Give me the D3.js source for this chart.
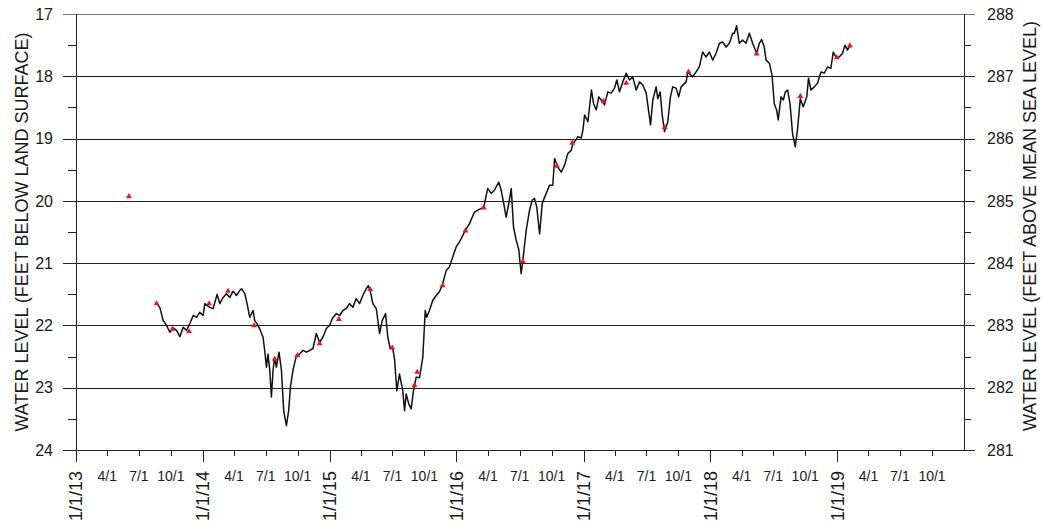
<!DOCTYPE html>
<html><head><meta charset="utf-8">
<script src="https://cdn.jsdelivr.net/npm/d3@7"></script>
<style>
html,body{margin:0;padding:0;background:#fff;}
svg{display:block;font-family:"Liberation Sans",Arial,sans-serif;}
</style></head>
<body>
<svg id="chart" width="1044" height="525"></svg>
<script>
// ---- DATA ----
// Continuous record: decimal year and depth to water (feet below land surface)
const lineYears = [2013.630,2013.661,2013.687,2013.714,2013.740,2013.766,2013.793,2013.819,2013.845,2013.872,2013.898,2013.924,2013.950,2013.976,2014.002,2014.016,2014.055,2014.081,2014.113,2014.134,2014.160,2014.187,2014.213,2014.239,2014.265,2014.291,2014.305,2014.331,2014.349,2014.370,2014.396,2014.409,2014.435,2014.454,2014.475,2014.488,2014.502,2014.514,2014.528,2014.541,2014.554,2014.567,2014.580,2014.601,2014.620,2014.638,2014.659,2014.677,2014.691,2014.711,2014.738,2014.764,2014.790,2014.817,2014.843,2014.869,2014.895,2014.921,2014.947,2014.974,2015.000,2015.021,2015.053,2015.079,2015.105,2015.131,2015.157,2015.183,2015.210,2015.236,2015.262,2015.289,2015.305,2015.320,2015.341,2015.368,2015.394,2015.415,2015.441,2015.459,2015.478,2015.498,2015.512,2015.530,2015.551,2015.577,2015.591,2015.604,2015.624,2015.643,2015.661,2015.683,2015.709,2015.735,2015.754,2015.766,2015.787,2015.813,2015.840,2015.866,2015.892,2015.919,2015.945,2015.971,2015.998,2016.024,2016.071,2016.102,2016.142,2016.168,2016.215,2016.246,2016.273,2016.299,2016.333,2016.352,2016.370,2016.391,2016.412,2016.431,2016.449,2016.470,2016.491,2016.509,2016.522,2016.549,2016.575,2016.596,2016.614,2016.632,2016.654,2016.675,2016.706,2016.732,2016.758,2016.772,2016.798,2016.824,2016.850,2016.876,2016.903,2016.916,2016.937,2016.955,2016.982,2016.995,2017.008,2017.034,2017.062,2017.079,2017.100,2017.120,2017.139,2017.165,2017.191,2017.218,2017.244,2017.262,2017.283,2017.309,2017.336,2017.362,2017.388,2017.415,2017.441,2017.467,2017.494,2017.514,2017.528,2017.546,2017.572,2017.585,2017.604,2017.620,2017.638,2017.664,2017.685,2017.703,2017.730,2017.750,2017.769,2017.809,2017.821,2017.861,2017.887,2017.913,2017.939,2017.966,2017.992,2018.018,2018.045,2018.071,2018.097,2018.124,2018.150,2018.176,2018.189,2018.207,2018.228,2018.254,2018.281,2018.307,2018.333,2018.365,2018.386,2018.404,2018.425,2018.439,2018.465,2018.486,2018.504,2018.522,2018.535,2018.557,2018.575,2018.591,2018.609,2018.628,2018.648,2018.669,2018.687,2018.709,2018.732,2018.760,2018.774,2018.793,2018.819,2018.845,2018.872,2018.898,2018.924,2018.950,2018.969,2018.994,2019.016,2019.042,2019.061,2019.081,2019.100];
const lineDepth = [21.63,21.71,21.92,22.00,22.11,22.04,22.08,22.18,22.03,22.08,21.97,21.84,21.87,21.79,21.84,21.65,21.71,21.73,21.50,21.65,21.55,21.49,21.55,21.45,21.52,21.44,21.41,21.49,21.65,21.87,21.76,21.92,22.00,22.08,22.19,22.40,22.67,22.46,22.72,23.15,22.72,22.51,22.67,22.43,22.72,23.37,23.61,23.37,22.99,22.72,22.48,22.46,22.40,22.43,22.40,22.37,22.13,22.27,22.19,22.05,22.00,21.89,21.81,21.84,21.76,21.73,21.65,21.71,21.57,21.65,21.52,21.41,21.36,21.44,21.65,21.73,22.13,21.92,21.81,22.19,22.37,22.37,22.54,23.05,22.78,23.05,23.37,23.10,23.26,23.34,23.05,22.83,22.84,22.51,21.76,21.87,21.76,21.60,21.52,21.46,21.33,21.12,21.06,20.90,20.74,20.66,20.47,20.37,20.18,20.15,20.10,19.80,19.88,19.83,19.70,19.83,20.02,20.26,20.04,19.80,20.42,20.63,20.79,21.17,20.96,20.47,20.15,19.99,19.96,20.10,20.53,20.04,19.88,19.75,19.75,19.32,19.46,19.54,19.43,19.24,19.19,19.08,19.03,18.97,18.99,18.86,18.62,18.73,18.22,18.44,18.54,18.33,18.38,18.46,18.25,18.27,18.19,18.06,18.25,18.09,17.95,18.06,18.01,18.22,18.09,18.14,18.27,18.57,18.78,18.38,18.17,18.36,18.25,18.62,18.89,18.73,18.33,18.17,18.19,18.33,18.17,18.09,17.93,18.01,17.93,17.85,17.61,17.69,17.61,17.74,17.63,17.47,17.45,17.53,17.47,17.31,17.31,17.19,17.47,17.42,17.47,17.31,17.47,17.63,17.47,17.41,17.53,17.74,17.79,17.98,18.44,18.54,18.70,18.33,18.38,18.25,18.22,18.44,18.92,19.13,18.86,18.36,18.49,18.33,18.03,18.22,18.17,18.11,17.93,17.95,17.85,17.87,17.61,17.71,17.69,17.63,17.50,17.58,17.51];
// Periodic field measurements (red triangles)
const fieldYears = [2013.417,2013.635,2013.761,2013.892,2014.050,2014.199,2014.404,2014.567,2014.746,2014.921,2015.073,2015.320,2015.494,2015.669,2015.691,2015.891,2016.071,2016.215,2016.522,2016.790,2016.911,2017.157,2017.336,2017.640,2017.827,2018.365,2018.709,2018.996,2019.100];
const fieldDepth = [19.93,21.65,22.06,22.10,21.65,21.45,22.00,22.54,22.48,22.29,21.90,21.42,22.36,22.96,22.75,21.36,20.48,20.11,20.97,19.44,19.07,18.40,18.11,18.82,17.93,17.64,18.32,17.70,17.51];
// Axis ticks and labels
const leftTicks = [17,18,19,20,21,22,23,24];
const rightTicks = [288,287,286,285,284,283,282,281];
const quarterLabels = ["4/1","7/1","10/1"];
const yearLabels = ["1/1/13","1/1/14","1/1/15","1/1/16","1/1/17","1/1/18","1/1/19"];
const datumOffset = 305; // altitude = 305 - depth
const leftTitle = "WATER LEVEL (FEET BELOW LAND SURFACE)";
const rightTitle = "WATER LEVEL (FEET ABOVE MEAN SEA LEVEL)";

// ---- helpers ----
function decYearToDate(dy){
  const y = Math.floor(dy);
  const s = Date.UTC(y,0,1), e = Date.UTC(y+1,0,1);
  return new Date(s + (dy - y) * (e - s));
}

const svg = d3.select("#chart");
const L = 76, R = 964, T = 14, B = 450;
const x = d3.scaleUtc().domain([new Date(Date.UTC(2013,0,1)), new Date(Date.UTC(2020,0,1))]).range([L, R]);
const y = d3.scaleLinear().domain([17, 24]).range([T, B]);
const y2 = d3.scaleLinear().domain([datumOffset-17, datumOffset-24]).range([T, B]);
const textCol = "#1a1a1a";

// gridlines (major ticks extend outside both axes)
svg.append("g").selectAll("line").data(leftTicks).join("line")
  .attr("x1", L-13).attr("x2", R+11)
  .attr("y1", d=>Math.round(y(d))+0.5).attr("y2", d=>Math.round(y(d))+0.5)
  .attr("stroke", d => d===17 ? "#777" : "#222").attr("stroke-width", 1.1);

// minor ticks on y axes
const halves = d3.range(17.5, 24, 1);
svg.append("g").selectAll("line").data(halves).join("line")
  .attr("x1", L-8).attr("x2", L).attr("y1", d=>Math.round(y(d))+0.5).attr("y2", d=>Math.round(y(d))+0.5)
  .attr("stroke", "#222");
svg.append("g").selectAll("line").data(halves).join("line")
  .attr("x1", R).attr("x2", R+7).attr("y1", d=>Math.round(y(d))+0.5).attr("y2", d=>Math.round(y(d))+0.5)
  .attr("stroke", "#222");

// axis lines
svg.append("line").attr("x1", L+0.5).attr("x2", L+0.5).attr("y1", T).attr("y2", B).attr("stroke", "#222");
svg.append("line").attr("x1", R+0.5).attr("x2", R+0.5).attr("y1", T).attr("y2", B).attr("stroke", "#222");

// left tick labels
svg.append("g").selectAll("text").data(leftTicks).join("text")
  .attr("x", 53).attr("y", d=>y(d)).attr("dy","0.36em").attr("text-anchor","end")
  .attr("font-size", 16).attr("fill", textCol).text(d=>d);
// right tick labels
svg.append("g").selectAll("text").data(rightTicks).join("text")
  .attr("x", 987).attr("y", d=>y2(d)).attr("dy","0.36em").attr("text-anchor","start")
  .attr("font-size", 16).attr("fill", textCol).text(d=>d);

// x ticks: quarters
const qTicks = d3.utcMonth.every(3).range(new Date(Date.UTC(2013,0,1)), new Date(Date.UTC(2019,11,31)));
const xg = svg.append("g");
xg.selectAll("line").data(qTicks).join("line")
  .attr("x1", d=>Math.round(x(d))+0.5).attr("x2", d=>Math.round(x(d))+0.5)
  .attr("y1", B).attr("y2", d=> d.getUTCMonth()===0 ? B+12 : B+6)
  .attr("stroke", "#222");
xg.selectAll("text.q").data(qTicks.filter(d=>d.getUTCMonth()!==0)).join("text")
  .attr("class","q")
  .attr("x", d=>x(d)).attr("y", 481).attr("text-anchor","middle")
  .attr("font-size", 14).attr("fill", textCol)
  .text(d => quarterLabels[d.getUTCMonth()/3 - 1]);
const yTicksDates = qTicks.filter(d=>d.getUTCMonth()===0);
xg.selectAll("text.y").data(yTicksDates).join("text")
  .attr("class","y")
  .attr("transform", d=>`translate(${x(d)},471) rotate(-90)`)
  .attr("dy","0.36em").attr("text-anchor","end")
  .attr("font-size", 18).attr("fill", textCol)
  .text((d,i) => yearLabels[i]);

// axis titles
svg.append("text").attr("transform", "translate(22,232) rotate(-90)")
  .attr("dy","0.36em").attr("text-anchor","middle").attr("font-size", 18).attr("fill", textCol)
  .text(leftTitle);
svg.append("text").attr("transform", "translate(1030,226) rotate(-90)")
  .attr("dy","0.36em").attr("text-anchor","middle").attr("font-size", 18).attr("fill", textCol)
  .text(rightTitle);

// continuous line
const lineData = lineYears.map((yr,i)=>({d: decYearToDate(yr), v: lineDepth[i]}));
svg.append("path").datum(lineData)
  .attr("d", d3.line().x(p=>x(p.d)).y(p=>y(p.v)))
  .attr("fill","none").attr("stroke","#111").attr("stroke-width",1.5).attr("stroke-linejoin","round");

// field measurements
const fieldData = fieldYears.map((yr,i)=>({d: decYearToDate(yr), v: fieldDepth[i]}));
svg.append("g").selectAll("path").data(fieldData).join("path")
  .attr("transform", p=>`translate(${x(p.d)},${y(p.v)})`)
  .attr("d", d3.symbol().type(d3.symbolTriangle).size(15))
  .attr("fill", "#e8161f");
</script>
</body></html>
